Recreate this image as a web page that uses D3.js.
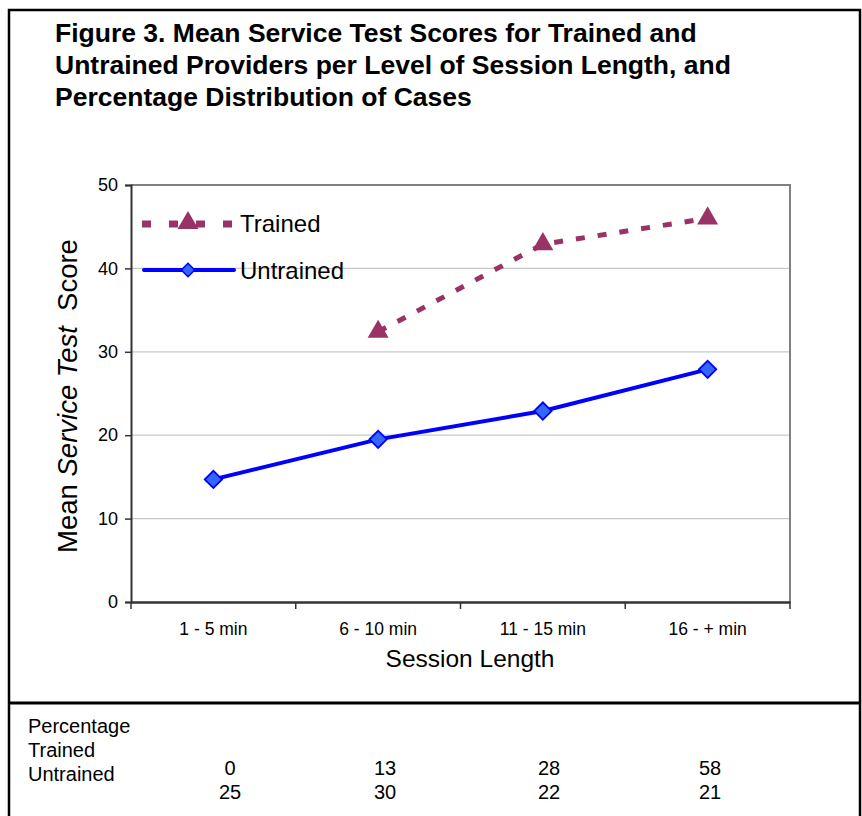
<!DOCTYPE html>
<html lang="en">
<head>
<meta charset="UTF-8">
<title>Figure 3</title>
<script src="https://cdnjs.cloudflare.com/ajax/libs/d3/7.8.5/d3.min.js"></script>
<style>
  body { margin: 0; background: #fff; }
  text { font-family: "Liberation Sans", Arial, sans-serif; }
</style>
</head>
<body>
<div id="chart"></div>
<script>
// data
const sessions = ["1 - 5 min", "6 - 10 min", "11 - 15 min", "16 - + min"];
const trained = [null, 32.4, 42.9, 46.0];
const untrained = [14.7, 19.5, 22.9, 27.9];
const yTicks = [0, 10, 20, 30, 40, 50];
const pctTrained = [0, 13, 28, 58];
const pctUntrained = [25, 30, 22, 21];
const titleLines = [
  "Figure 3. Mean Service Test Scores for Trained and",
  "Untrained Providers per Level of Session Length, and",
  "Percentage Distribution of Cases"
];

const W = 862, H = 816;
const svg = d3.select("#chart").append("svg").attr("width", W).attr("height", H);

// frame
svg.append("path")
  .attr("d", "M9,816 V10 H860 V816")
  .attr("fill", "none").attr("stroke", "#000").attr("stroke-width", 2.5);
svg.append("line").attr("x1", 9).attr("x2", 860).attr("y1", 703).attr("y2", 703)
  .attr("stroke", "#000").attr("stroke-width", 3);

// title
svg.append("g").selectAll("text").data(titleLines).enter().append("text")
  .attr("x", 55).attr("y", (d, i) => 42 + i * 32)
  .attr("font-size", 26.5).attr("font-weight", "bold")
  .text(d => d);

const plot = { left: 131, right: 790, top: 185, bottom: 602 };

const x = d3.scaleBand().domain(sessions).range([plot.left, plot.right]);
const y = d3.scaleLinear().domain([0, 50]).range([plot.bottom, plot.top]);

// grid
svg.append("g").selectAll("line").data(yTicks.filter(d => d > 0 && d < 50)).enter().append("line")
  .attr("x1", plot.left).attr("x2", plot.right)
  .attr("y1", d => y(d)).attr("y2", d => y(d))
  .attr("stroke", "#c8c8c8").attr("stroke-width", 1.2);

// plot border (top/right gray)
svg.append("path")
  .attr("d", `M${plot.left},${plot.top} H${plot.right} V${plot.bottom}`)
  .attr("fill", "none").attr("stroke", "#808080").attr("stroke-width", 2);

// y axis
const yAxis = svg.append("g").attr("transform", `translate(${plot.left},0)`)
  .call(d3.axisLeft(y).tickValues(yTicks).tickSize(6).tickPadding(7));
yAxis.select(".domain").attr("stroke", "#333").attr("stroke-width", 2);
yAxis.selectAll(".tick line").attr("stroke", "#333").attr("stroke-width", 1.5);
yAxis.selectAll("text").attr("font-size", 18).attr("fill", "#000")
  .attr("font-family", "Liberation Sans, Arial, sans-serif");

// x axis
const xAxis = svg.append("g").attr("transform", `translate(0,${plot.bottom})`)
  .call(d3.axisBottom(x).tickSize(0).tickPadding(21));
xAxis.select(".domain").attr("stroke", "#333").attr("stroke-width", 2.5);
xAxis.selectAll("text").attr("font-size", 17.5).attr("fill", "#000")
  .attr("font-family", "Liberation Sans, Arial, sans-serif");
// boundary ticks between categories
const edges = sessions.map(s => x(s)).concat([x.range()[1]]);
svg.append("g").selectAll("line").data(edges).enter().append("line")
  .attr("x1", d => d).attr("x2", d => d)
  .attr("y1", plot.bottom).attr("y2", plot.bottom + 7)
  .attr("stroke", "#333").attr("stroke-width", 1.5);

// axis titles
svg.append("text")
  .attr("x", 470).attr("y", 667)
  .attr("text-anchor", "middle").attr("font-size", 24.5)
  .text("Session Length");

const yt = svg.append("text")
  .attr("transform", `translate(77,396) rotate(-90)`)
  .attr("text-anchor", "middle").attr("font-size", 27.5)
  .style("white-space", "pre");
yt.append("tspan").text("Mean ");
yt.append("tspan").attr("font-style", "italic").text("Service Test ");
yt.append("tspan").text(" Score");

const cx = s => x(s) + x.bandwidth() / 2;
const trainedColor = "#993366", lineBlue = "#0000ff", diamondFill = "#3366ff";

// trained line
const tPts = sessions.map((s, i) => ({ s, v: trained[i] })).filter(d => d.v !== null);
svg.append("path").datum(tPts)
  .attr("d", d3.line().x(d => cx(d.s)).y(d => y(d.v)))
  .attr("fill", "none").attr("stroke", trainedColor)
  .attr("stroke-width", 5).attr("stroke-dasharray", "9,13");

// untrained line
const uPts = sessions.map((s, i) => ({ s, v: untrained[i] }));
svg.append("path").datum(uPts)
  .attr("d", d3.line().x(d => cx(d.s)).y(d => y(d.v)))
  .attr("fill", "none").attr("stroke", lineBlue).attr("stroke-width", 4);

const tri = d3.symbol().type(d3.symbolTriangle).size(190);
const dia = d3.symbol().type(d3.symbolSquare).size(150);

svg.append("g").selectAll("path").data(tPts).enter().append("path")
  .attr("d", tri).attr("fill", trainedColor)
  .attr("transform", d => `translate(${cx(d.s)},${y(d.v)})`);

svg.append("g").selectAll("path").data(uPts).enter().append("path")
  .attr("d", dia).attr("fill", diamondFill).attr("stroke", lineBlue).attr("stroke-width", 1.8)
  .attr("transform", d => `translate(${cx(d.s)},${y(d.v)}) rotate(45)`);

// legend
const lg = svg.append("g");
lg.append("line").attr("x1", 142).attr("x2", 232).attr("y1", 224).attr("y2", 224)
  .attr("stroke", trainedColor).attr("stroke-width", 7).attr("stroke-dasharray", "9,18");
lg.append("path").attr("d", tri).attr("fill", trainedColor)
  .attr("transform", "translate(188,223)");
lg.append("text").attr("x", 240).attr("y", 232).attr("font-size", 24).text("Trained");
lg.append("line").attr("x1", 144).attr("x2", 234).attr("y1", 270).attr("y2", 270)
  .attr("stroke", lineBlue).attr("stroke-width", 4).attr("stroke-linecap", "round");
lg.append("path").attr("d", d3.symbol().type(d3.symbolSquare).size(90))
  .attr("fill", diamondFill).attr("stroke", lineBlue).attr("stroke-width", 1.5)
  .attr("transform", "translate(188,270) rotate(45)");
lg.append("text").attr("x", 240).attr("y", 279).attr("font-size", 24).text("Untrained");

// table below
const tbl = svg.append("g").attr("font-size", 20);
["Percentage", "Trained", "Untrained"].forEach((t, i) => {
  tbl.append("text").attr("x", 28).attr("y", 733 + i * 24).text(t);
});
const colX = [230, 385, 549, 710];
tbl.selectAll("text.tr").data(pctTrained).enter().append("text").attr("class", "tr")
  .attr("x", (d, i) => colX[i]).attr("y", 775).attr("text-anchor", "middle").text(d => d);
tbl.selectAll("text.un").data(pctUntrained).enter().append("text").attr("class", "un")
  .attr("x", (d, i) => colX[i]).attr("y", 799).attr("text-anchor", "middle").text(d => d);
</script>
</body>
</html>
